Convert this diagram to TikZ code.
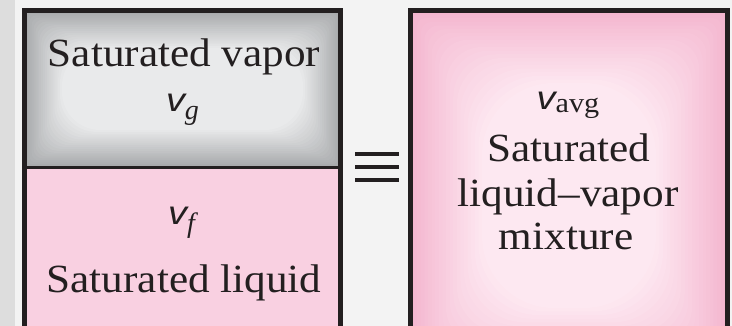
\documentclass[tikz,border=0pt]{standalone}
\usepackage{fontspec}
\setmainfont[FakeStretch=1.08]{Liberation Serif}
\newfontfamily\vfont{Liberation Sans}
\newfontfamily\subfont{Liberation Serif}
\definecolor{bgc}{HTML}{F3F3F3}
\definecolor{stripc}{HTML}{DDDDDD}
\definecolor{greyedge}{HTML}{A6A8AA}
\definecolor{greymid}{HTML}{E9EAEB}
\definecolor{pinkflat}{HTML}{F9D0E1}
\definecolor{pinkedge}{HTML}{F4B6CF}
\definecolor{pinkmid}{HTML}{FDE8F1}
\definecolor{ink}{HTML}{231F20}
\newcommand\vv{{\vfont\itshape\fontsize{33}{33}\selectfont\scalebox{1.15}[1]{v}}}
\newcommand\subi[1]{\raisebox{-8pt}{\subfont\itshape\fontsize{28}{28}\selectfont #1}}
\newcommand\subr[1]{\raisebox{-3pt}{\fontsize{28}{28}\selectfont #1}}
% vignette: x1 y1 x2 y2 edge centre step
\newcommand\vignette[7]{%
  \foreach \i in {0,...,20}{%
    \pgfmathsetmacro\dd{\i*#7}%
    \pgfmathtruncatemacro\pc{\i*5}%
    \fill[color=#6!\pc!#5, rounded corners=\dd pt]
      ({#1+\dd},{#2+\dd}) rectangle ({#3-\dd},{#4-\dd});
  }%
}
\begin{document}
\begin{tikzpicture}[x=1pt,y=-1pt,
  txt/.style={inner sep=0pt, anchor=base, text=ink, font=\fontsize{40}{44}\selectfont},
  frame/.style={draw=ink, line width=5pt},
  eqline/.style={draw=ink, line width=4pt}]
\useasboundingbox (0,0) rectangle (732,326);
% background
\fill[bgc] (0,0) rectangle (732,326);
\fill[stripc] (0,0) rectangle (15,326);
% left box fills
\vignette{24}{10}{341}{168}{greyedge}{greymid}{1.9}
\fill[pinkflat] (24,167) rectangle (341,330);
% right box fill
\vignette{410}{11}{728}{380}{pinkedge}{pinkmid}{3.6}
% frames
\draw[frame] (24.5,330) -- (24.5,10.5) -- (340.5,10.5) -- (340.5,330);
\draw[draw=ink, line width=3pt] (24.5,167.5) -- (340.5,167.5);
\draw[frame] (410,330) -- (410,11) -- (727.5,11) -- (727.5,330);
% equivalence sign
\coordinate (e1a) at (355,154); \coordinate (e1b) at (399,154);
\coordinate (e2a) at (355,167); \coordinate (e2b) at (399,167);
\coordinate (e3a) at (355,180); \coordinate (e3b) at (399,180);
\draw[eqline] (e1a) -- (e1b);
\draw[eqline] (e2a) -- (e2b);
\draw[eqline] (e3a) -- (e3b);
% texts left
\node[txt] (sv) at (184,67) {Saturated vapor};
\node[txt] (vg) at (182.5,112) {\vv\subi{g}};
\node[txt] (vf) at (181.5,225) {\vv\subi{f}};
\node[txt] (sl) at (184,292) {Saturated liquid};
% texts right
\node[txt] (va) at (568,110) {\vv\subr{avg}};
\node[txt] (m1) at (569,162) {Saturated};
\node[txt] (m2) at (568,207) {liquid--vapor};
\node[txt] (m3) at (566,250) {mixture};
\end{tikzpicture}
\end{document}
